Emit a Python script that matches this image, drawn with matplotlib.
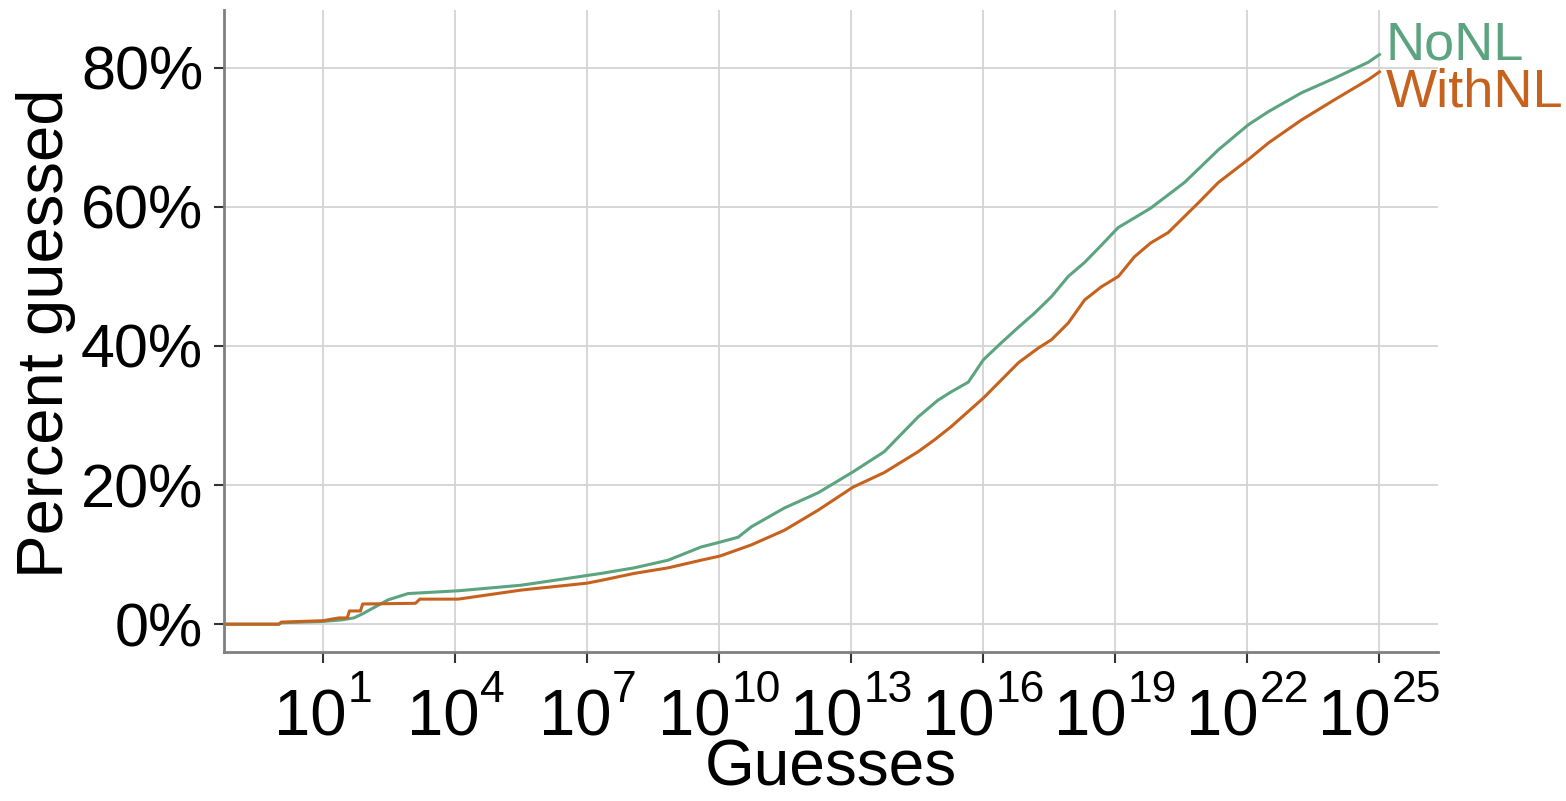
import matplotlib
matplotlib.use("Agg")
import matplotlib.pyplot as plt
import numpy as np

plt.rcParams['font.family'] = ['Liberation Sans', 'DejaVu Sans']

# log10(guesses) and percent guessed
nonl_exp = [-1.25, 0.0, 0.05, 1.0, 1.4, 1.7, 1.9, 2.16, 2.48, 2.93, 4.07, 5.5, 7.0,
            7.32, 8.07, 8.84, 9.59, 10.02, 10.43, 10.73, 11.48, 12.25, 13.04, 13.75,
            14.52, 14.97, 15.27, 15.66, 16.0, 16.4, 16.8, 17.16, 17.55, 17.93, 18.3,
            18.7, 19.06, 19.8, 20.57, 21.34, 22.02, 22.48, 23.23, 23.98, 24.75, 25.0]
nonl_pct = [0.0, 0.0, 0.2, 0.4, 0.6, 0.9, 1.5, 2.4, 3.5, 4.4, 4.8, 5.6, 7.0,
            7.3, 8.1, 9.2, 11.1, 11.8, 12.5, 14.0, 16.7, 18.9, 21.9, 24.8,
            29.8, 32.2, 33.4, 34.8, 38.0, 40.4, 42.7, 44.7, 47.1, 50.0, 52.0,
            54.6, 57.0, 59.8, 63.5, 68.2, 71.8, 73.7, 76.4, 78.5, 80.8, 81.9]

withnl_exp = [-1.25, 0.0, 0.05, 1.0, 1.36, 1.55, 1.6, 1.85, 1.9, 3.1, 3.2, 4.07, 5.5,
              7.0, 7.32, 8.07, 8.84, 9.59, 10.02, 10.73, 11.48, 12.25, 13.04, 13.75,
              14.52, 14.89, 15.27, 16.0, 16.8, 17.25, 17.55, 17.93, 18.3, 18.68, 19.07,
              19.43, 19.8, 20.2, 20.89, 21.34, 22.02, 22.48, 23.23, 23.98, 24.75, 25.0]
withnl_pct = [0.0, 0.0, 0.3, 0.5, 0.9, 0.9, 1.9, 1.9, 2.9, 3.0, 3.6, 3.6, 4.9,
              5.9, 6.3, 7.3, 8.1, 9.2, 9.8, 11.4, 13.5, 16.4, 19.7, 21.8,
              24.8, 26.5, 28.4, 32.5, 37.6, 39.7, 40.9, 43.3, 46.6, 48.5, 50.0,
              52.8, 54.8, 56.3, 60.6, 63.5, 66.8, 69.2, 72.5, 75.4, 78.3, 79.4]

series_names = ["NoNL", "WithNL"]
x_tick_exps = [1, 4, 7, 10, 13, 16, 19, 22, 25]
y_ticks = [0, 20, 40, 60, 80]

green = "#5ba47f"
orange = "#c6621e"

fig = plt.figure(figsize=(15.66, 8.01), dpi=100)
ax = fig.add_axes([224/1566, 1-652/801, (1438-224)/1566, (652-10)/801])

ax.plot(10.0**np.array(nonl_exp), nonl_pct, color=green, lw=2.2, solid_joinstyle='round')
ax.plot(10.0**np.array(withnl_exp), withnl_pct, color=orange, lw=2.2, solid_joinstyle='round')

ax.set_xscale('log')
ax.set_xlim(10**-1.25, 10**26.33)
ax.set_ylim(-4.0, 88.3)

ax.set_xticks([10.0**e for e in x_tick_exps])
ax.set_xticklabels([])
ax.xaxis.set_minor_locator(matplotlib.ticker.NullLocator())
ax.set_yticks(y_ticks)
ax.set_yticklabels(['%d%%' % v for v in y_ticks])

ax.grid(True, color='#d3d3d3', lw=1.3)
ax.set_axisbelow(True)
for s in ['top', 'right']:
    ax.spines[s].set_visible(False)
for s in ['left', 'bottom']:
    ax.spines[s].set_color('#808080')
    ax.spines[s].set_linewidth(2.0)

ax.tick_params(axis='x', length=8, width=1.5, color='#333333')
ax.tick_params(axis='y', labelsize=44, length=7, width=1.5, color='#333333', pad=8)

# x tick labels: "10" with raised exponent
renderer = fig.canvas.get_renderer()
xt = ax.get_xaxis_transform()
for e in x_tick_exps:
    t1 = ax.annotate('10', xy=(10.0**e, 0), xycoords=xt, xytext=(0, -84),
                     textcoords='offset pixels', fontsize=47, ha='right', va='baseline',
                     annotation_clip=False)
    t2 = ax.annotate(str(e), xy=(10.0**e, 0), xycoords=xt, xytext=(0, -50),
                     textcoords='offset pixels', fontsize=32, ha='left', va='baseline',
                     annotation_clip=False)
    w1 = t1.get_window_extent(renderer).width
    w2 = t2.get_window_extent(renderer).width
    dx = (w1 - w2) / 2.0
    t1.xyann = (dx, -84)
    t2.xyann = (dx + 1, -50)

ax.set_xlabel('Guesses', fontsize=46, va='baseline')
ax.xaxis.set_label_coords(0.5, (652 - 786) / 642)
ax.set_ylabel('Percent guessed', fontsize=47)
ax.yaxis.set_label_coords((76 - 224) / 1214, (652 - 333) / 642)

# direct labels
ax.annotate(series_names[0], xy=(10.0**nonl_exp[-1], nonl_pct[-1]), xytext=(6, -5),
            textcoords='offset pixels', color=green, fontsize=39, va='baseline', ha='left',
            annotation_clip=False)
ax.annotate(series_names[1], xy=(10.0**withnl_exp[-1], withnl_pct[-1]), xytext=(6, -35),
            textcoords='offset pixels', color=orange, fontsize=39, va='baseline', ha='left',
            annotation_clip=False)

fig.savefig('out.png', dpi=100)
